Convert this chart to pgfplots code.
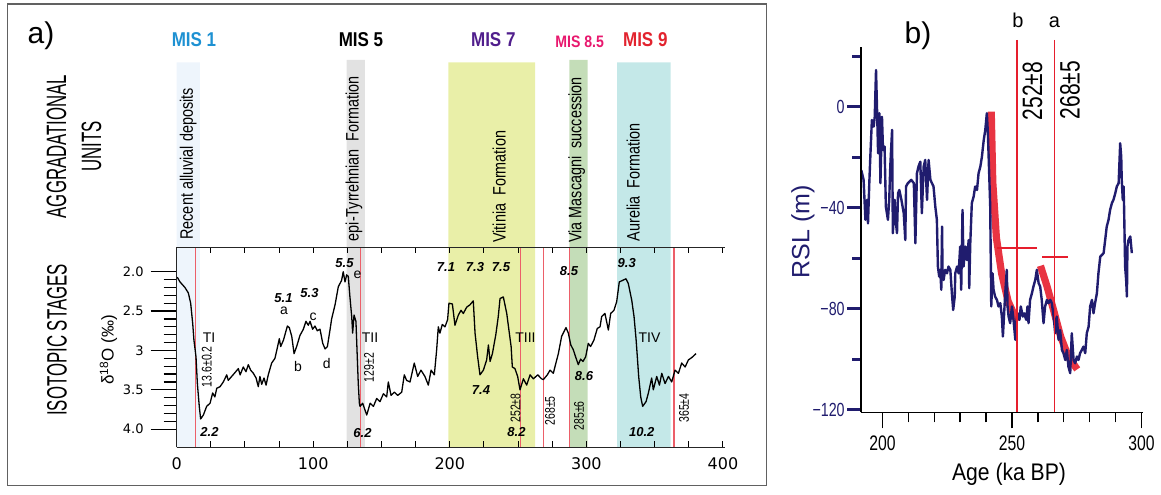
\documentclass[border=0pt]{standalone}
\usepackage{pgfplots}
\pgfplotsset{compat=1.18}
\usepackage{fontspec}
\setmainfont{Liberation Sans}
\newfontfamily\cond[FakeStretch=0.75]{Liberation Sans}
\newfontfamily\fcond[FakeStretch=0.8]{Liberation Sans}
\newfontfamily\vcond[FakeStretch=0.6]{Liberation Sans}
\newfontfamily\bcond[FakeStretch=0.85]{Liberation Sans}
\newfontfamily\acond[FakeStretch=0.88]{Liberation Sans}
\newfontfamily\dv{DejaVu Sans}
\definecolor{navy}{RGB}{32,28,110}
\definecolor{redb}{RGB}{230,30,45}
\definecolor{redl}{RGB}{236,95,105}
\definecolor{misone}{RGB}{30,145,210}
\definecolor{misseven}{RGB}{80,30,140}
\definecolor{miseight}{RGB}{232,24,110}
\definecolor{misnine}{RGB}{226,35,46}
\definecolor{bandone}{RGB}{238,245,252}
\definecolor{bandfive}{RGB}{226,226,226}
\definecolor{bandseven}{RGB}{233,239,168}
\definecolor{bandeight}{RGB}{196,221,184}
\definecolor{bandnine}{RGB}{196,232,232}
\pgfplotstableread{
x y
0.5 2.07
2.5 2.13
6.1 2.20
8.6 2.27
10.3 2.40
11.8 2.66
12.7 2.87
14.2 3.08
15.2 3.42
16.6 3.71
17.6 3.87
19.6 3.82
22.0 3.71
24.5 3.67
26.4 3.54
28.0 3.59
29.4 3.48
31.8 3.46
34.2 3.40
36.7 3.31
37.8 3.38
40.3 3.33
42.8 3.28
45.2 3.23
46.5 3.31
48.8 3.21
50.8 3.27
52.5 3.18
54.2 3.25
56.2 3.29
58.2 3.35
59.8 3.46
61.0 3.33
62.3 3.43
64.0 3.35
65.5 3.44
67.1 3.31
69.6 3.16
72.0 3.10
73.7 2.97
75.2 2.85
76.2 2.95
78.2 2.87
81.1 2.69
82.5 2.71
84.3 2.82
86.0 3.04
87.9 2.95
90.3 2.81
92.8 2.73
94.7 2.63
96.4 2.68
97.7 2.63
99.6 2.73
101.3 2.69
103.0 2.75
105.0 2.73
107.0 2.91
108.7 2.98
110.4 2.95
112.3 2.74
113.5 2.60
116.0 2.42
118.4 2.19
120.8 2.11
122.0 2.00
123.3 2.13
124.5 2.04
125.7 2.06
126.9 2.32
128.2 2.57
128.9 2.78
129.9 2.55
131.3 2.63
133.0 3.42
133.8 3.67
134.3 3.71
136.2 3.67
139.2 3.82
141.7 3.67
144.1 3.71
146.5 3.61
148.9 3.65
151.4 3.55
153.8 3.59
155.0 3.40
157.0 3.57
159.4 3.53
161.9 3.57
164.8 3.53
166.7 3.31
168.4 3.38
170.9 3.40
174.0 3.16
176.5 3.33
178.9 3.25
181.8 3.33
184.3 3.44
186.3 3.25
188.7 3.31
190.4 2.99
191.6 2.70
192.8 2.78
194.5 2.67
196.5 2.70
198.4 2.61
199.4 2.40
201.9 2.41
203.8 2.68
206.3 2.55
208.2 2.49
209.9 2.53
212.4 2.45
214.8 2.42
217.2 2.37
218.5 2.78
220.4 3.08
222.1 3.31
224.6 3.25
227.0 3.12
228.3 2.93
229.5 3.14
231.2 3.04
233.7 2.80
235.5 2.57
236.8 2.34
239.2 2.32
241.7 2.53
243.3 2.74
244.9 2.95
245.8 3.21
247.7 3.23
249.7 3.33
251.4 3.50
253.9 3.36
256.3 3.44
258.8 3.31
261.2 3.36
264.4 3.31
267.2 3.36
268.5 3.37
271.4 3.31
273.4 3.25
275.8 3.29
277.7 3.16
279.5 3.04
281.9 2.82
285.1 2.71
286.8 2.78
288.6 2.93
290.4 2.99
292.3 3.09
294.1 3.18
295.8 3.11
297.5 3.14
299.5 3.08
301.4 2.91
303.1 2.95
305.5 2.87
308.0 2.72
310.0 2.70
311.2 2.57
313.6 2.53
316.1 2.74
317.8 2.53
320.2 2.49
322.2 2.38
324.1 2.13
326.5 2.11
329.0 2.09
330.7 2.15
333.2 2.36
334.9 2.57
336.4 2.86
337.3 3.08
338.3 3.33
339.8 3.59
341.2 3.71
343.7 3.65
345.4 3.54
347.8 3.35
349.0 3.50
351.5 3.33
353.5 3.44
355.2 3.29
357.6 3.42
360.1 3.33
362.5 3.40
364.9 3.25
367.4 3.29
369.8 3.16
372.3 3.21
374.7 3.12
377.2 3.09
380.3 3.04
}\isotope
\pgfplotstableread{
x y
191.8 -25.1
192.7 -29.0
193.4 -44.8
194.0 -36.9
194.4 -46.2
194.9 -30.3
195.3 -19.8
195.9 -5.3
196.6 -7.9
197.0 -4.0
197.5 14.5
197.9 -1.3
198.3 -18.5
198.8 -2.6
199.2 -30.3
199.8 -4.0
200.2 -17.1
200.8 -15.8
201.3 -39.6
202.1 -44.8
202.6 -36.9
203.0 -23.7
203.7 -9.2
204.0 -50.1
204.7 -36.9
205.2 -46.2
205.6 -50.1
206.0 -34.3
206.5 -33.0
207.3 -36.9
208.2 -42.2
208.8 -52.8
209.1 -31.6
209.8 -30.3
211.1 -29.0
212.1 -30.3
212.7 -54.1
213.3 -26.4
213.9 -23.7
214.6 -21.8
215.2 -42.2
215.9 -23.7
216.5 -21.1
217.2 -36.9
217.8 -21.1
218.5 -29.0
219.1 -30.3
219.7 -31.6
220.4 -39.6
221.0 -44.8
221.4 -63.3
221.9 -67.3
222.3 -64.6
222.7 -72.5
223.0 -47.5
223.2 -66.0
223.6 -68.6
224.2 -64.6
224.9 -66.0
225.5 -63.3
226.2 -64.6
226.8 -73.9
227.3 -80.5
227.9 -75.2
228.1 -66.0
228.8 -63.3
229.4 -66.0
230.0 -55.4
230.4 -72.5
230.9 -40.9
231.3 -63.3
232.0 -55.4
232.6 -60.7
233.3 -52.8
233.5 -71.9
233.9 -54.1
234.5 -38.2
235.2 -35.6
235.8 -31.6
236.5 -33.0
237.1 -26.4
237.8 -23.7
238.4 -19.8
239.1 -13.2
239.7 -9.2
240.3 -2.6
240.7 -10.5
241.2 -26.4
241.6 -39.6
242.0 -79.1
242.5 -66.0
242.9 -72.5
243.5 -75.2
244.2 -76.5
244.8 -79.1
245.5 -77.8
246.1 -83.1
246.5 -91.0
247.4 -73.9
248.0 -64.6
248.3 -79.1
248.7 -83.1
249.3 -85.7
250.0 -79.1
250.6 -84.4
251.3 -92.3
251.6 -85.7
252.2 -81.8
252.9 -84.4
253.4 -79.1
254.2 -83.1
254.7 -81.8
255.5 -84.4
256.0 -79.1
256.4 -85.7
257.0 -76.5
257.7 -73.9
258.3 -71.2
259.0 -68.6
259.6 -64.6
260.3 -69.9
260.9 -71.2
261.5 -76.5
262.2 -85.7
262.8 -79.1
263.5 -76.5
264.1 -77.8
264.8 -76.5
265.4 -77.8
266.1 -83.1
266.7 -89.7
267.3 -83.1
268.0 -92.3
268.6 -88.4
269.3 -96.3
269.9 -97.6
270.6 -100.3
271.2 -96.3
271.8 -102.9
272.5 -105.5
273.1 -89.7
273.8 -100.3
274.4 -101.6
275.1 -98.9
275.7 -100.3
276.3 -97.6
277.0 -96.3
277.6 -95.0
278.3 -97.6
278.9 -89.7
279.6 -87.1
280.2 -79.1
280.9 -76.5
281.5 -81.8
282.1 -77.8
282.8 -73.9
283.4 -66.0
284.1 -59.4
285.4 -58.0
286.0 -52.8
286.6 -47.5
287.3 -44.8
287.9 -40.9
288.6 -38.2
289.2 -36.9
289.9 -34.3
290.5 -31.6
291.2 -30.3
291.8 -14.5
292.2 -19.8
292.4 -29.0
292.8 -36.9
293.1 -31.6
293.3 -39.6
293.7 -63.3
294.1 -68.6
294.4 -75.2
294.6 -55.4
295.0 -52.8
295.7 -51.4
296.3 -58.0
}\rsl
\begin{document}
\begin{tikzpicture}
% ---------- panel a: main axis with bands, lines, curve and x ticks
\begin{axis}[
  at={(88.3pt,23.35pt)}, anchor=south west, scale only axis,
  width=274.2pt, height=100pt,
  xmin=0, xmax=401.5, ymin=1.69, ymax=4.23, y dir=reverse,
  clip=false, axis on top,
  axis x line=box, axis y line=left,
  x axis line style={-}, y axis line style={-},
  axis line style={line width=0.6pt, black!85},
  xtick={0,100,200,300,400}, xticklabels={0,100,200,300,400},
  minor xtick={25,50,75,125,150,175,225,250,275,325,350,375},
  xticklabel pos=left,
  tick align=inside, major tick length=3pt, minor tick length=3pt,
  ytick=\empty,
  /pgf/number format/assume math mode=true,
  xticklabel style={font=\dv\fontsize{8}{8}\selectfont, yshift=-1.5pt},
  tick style={line width=0.5pt, black},
]
\addplot[draw=none, fill=bandone] coordinates {(0,-0.66) (17.1,-0.66) (17.1,4.23) (0,4.23) (0,-0.66)};
\addplot[draw=none, fill=bandfive] coordinates {(124.5,-0.69) (137.9,-0.69) (137.9,4.23) (124.5,4.23) (124.5,-0.69)};
\addplot[draw=none, fill=bandseven] coordinates {(198.9,-0.66) (262.4,-0.66) (262.4,4.23) (198.9,4.23) (198.9,-0.66)};
\addplot[draw=none, fill=bandeight] coordinates {(287.5,-0.69) (301.0,-0.69) (301.0,4.23) (287.5,4.23) (287.5,-0.69)};
\addplot[draw=none, fill=bandnine] coordinates {(322.6,-0.66) (361.7,-0.66) (361.7,4.23) (322.6,4.23) (322.6,-0.66)};
\addplot[redl, line width=0.6pt] coordinates {(13.7,1.69) (13.7,4.23)};
\addplot[redl, line width=0.6pt] coordinates {(134.8,1.69) (134.8,4.23)};
\addplot[redl, line width=0.6pt] coordinates {(251.9,1.69) (251.9,4.23)};
\addplot[redl, line width=0.6pt] coordinates {(268.4,1.69) (268.4,4.23)};
\addplot[redl, line width=0.6pt] coordinates {(287.5,1.69) (287.5,4.23)};
\addplot[redl, line width=0.6pt] coordinates {(364.1,1.69) (364.1,4.23)};
\addplot[black, line width=0.65pt, line join=round] table[x=x,y=y] {\isotope};
\end{axis}
% ---------- panel a: y ticks
\begin{axis}[
  at={(88.3pt,23.35pt)}, anchor=south west, scale only axis,
  width=274.2pt, height=100pt,
  xmin=0, xmax=401.5, ymin=1.69, ymax=4.23, y dir=reverse,
  axis x line=none, axis y line=left, y axis line style={-},
  axis line style={line width=0.6pt, black!85},
  ytick={2,2.5,3,3.5,4}, yticklabels={2.0,2.5,3,3.5,4.0},
  minor ytick={2.1,2.2,2.3,2.4,2.6,2.7,2.8,2.9,3.1,3.2,3.3,3.4,3.6,3.7,3.8,3.9},
  tick align=outside, major tick length=13pt, minor tick length=6.5pt,
  /pgf/number format/assume math mode=true,
  yticklabel style={font=\dv\fontsize{6.5}{6.5}\selectfont},
  tick style={line width=0.6pt, black},
]
\addplot[draw=none] coordinates {(0,2)};
\end{axis}
% ---------- panel b: main axis
\begin{axis}[
  at={(430.5pt,40.85pt)}, anchor=south west, scale only axis,
  width=140.85pt, height=182.65pt,
  xmin=191.7, xmax=300.5, ymin=-121, ymax=23.6,
  clip=false,
  axis x line=bottom, axis y line=none, x axis line style={-},
  axis line style={line width=0.75pt, black},
  xtick={200,250,300}, xticklabels={200,250,300},
  minor xtick={210,220,230,240,260,270,280,290},
  tick align=outside, major tick length=8pt, minor tick length=5pt,
  ytick=\empty,
  /pgf/number format/assume math mode=true,
  xticklabel style={font=\cond\fontsize{10.5}{10.5}\selectfont},
  tick style={line width=0.75pt, black},
]
\addplot[redb, line width=3.6pt, opacity=0.9, line cap=butt] coordinates {(242.0,-2) (242.6,-30) (244.0,-52) (246.0,-66) (248.5,-77) (252.0,-85)};
\addplot[redb, line width=3.6pt, opacity=0.9, line cap=butt] coordinates {(261.0,-63) (263.5,-71) (266.2,-81) (268.8,-91) (271.8,-99) (275.2,-104)};
\addplot[navy, line width=1.2pt, line join=round] table[x=x,y=y] {\rsl};
\addplot[redb, line width=0.8pt] coordinates {(252.0,26.4) (252.0,-121)};
\addplot[redb, line width=0.8pt] coordinates {(266.4,26.4) (266.4,-121)};
\addplot[redb, line width=0.8pt] coordinates {(244.2,-56) (259.7,-56)};
\addplot[redb, line width=0.8pt] coordinates {(261.7,-59.6) (271.7,-59.6)};
\end{axis}
% ---------- panel b: y ticks
\begin{axis}[
  at={(430.5pt,40.85pt)}, anchor=south west, scale only axis,
  width=140.85pt, height=182.65pt,
  xmin=191.7, xmax=300.5, ymin=-121, ymax=23.6,
  axis x line=none, axis y line=left, y axis line style={-},
  axis line style={line width=0.75pt, black},
  ytick={-120,-80,-40,0}, yticklabels={−120,−80,−40,0},
  minor ytick={-100,-60,-20,20},
  tick align=outside, major tick length=7pt, minor tick length=4.5pt,
  /pgf/number format/assume math mode=true,
  yticklabel style={font=\cond\fontsize{9.5}{9.5}\selectfont, text=navy, inner xsep=1pt},
  tick style={line width=1.5pt, navy},
]
\addplot[draw=none] coordinates {(250,0)};
\end{axis}
% ---------- texts (pixel coordinates of the reference)
\begin{scope}[yshift=247pt, x=0.5pt, y=-0.5pt]
\draw[black!62, line width=0.75pt] (7.5,4) rectangle (766.5,485.5);
\node[font=\fontsize{15}{15}\selectfont] at (41,36) {a)};
\node[font=\fontsize{15}{15}\selectfont] at (918,36) {b)};
% MIS labels
\node[font=\bcond\bfseries\fontsize{10}{10}\selectfont, text=misone] at (194,40) {MIS 1};
\node[font=\bcond\bfseries\fontsize{10}{10}\selectfont, text=black] at (361,40) {MIS 5};
\node[font=\bcond\bfseries\fontsize{10}{10}\selectfont, text=misseven] at (493.3,40) {MIS 7};
\node[font=\bcond\bfseries\fontsize{8.3}{8.3}\selectfont, text=miseight] at (579.7,42) {MIS 8.5};
\node[font=\bcond\bfseries\fontsize{10}{10}\selectfont, text=misnine] at (645.3,40) {MIS 9};
% side titles
\node[rotate=90, align=center, font=\vcond\fontsize{14}{17.5}\selectfont] at (74,146.5) {AGGRADATIONAL\\UNITS};
\node[rotate=90, font=\vcond\fontsize{14}{14}\selectfont] at (57,340) {ISOTOPIC STAGES};
% formation labels
\node[rotate=90, anchor=west, inner sep=0pt, font=\fcond\fontsize{9}{9}\selectfont] at (188.3,240) {Recent alluvial deposits};
\node[rotate=90, anchor=west, inner sep=0pt, font=\fcond\fontsize{9}{9}\selectfont] at (354,241.5) {epi-Tyrrehnian\ \ Formation};
\node[rotate=90, anchor=west, inner sep=0pt, font=\fcond\fontsize{9}{9}\selectfont] at (499.3,243) {Vitinia\ \ Formation};
\node[rotate=90, anchor=west, inner sep=0pt, font=\fcond\fontsize{9}{9}\selectfont] at (576.7,243) {Via Mascagni\ \ succession};
\node[rotate=90, anchor=west, inner sep=0pt, font=\fcond\fontsize{9}{9}\selectfont] at (633.3,241.5) {Aurelia\ \ Formation};
% y label a
\node[rotate=90, font=\fontsize{8.5}{8.5}\selectfont] at (108.5,350) {δ\textsuperscript{18}O (‰)};
% stage numbers (bold italic)
\begin{scope}[every node/.style={font=\bfseries\itshape\fontsize{6.5}{6.5}\selectfont, inner sep=0pt}]
\node at (344.5,263.3) {5.5};
\node at (283.5,298) {5.1};
\node at (309.5,293.3) {5.3};
\node at (446,267.5) {7.1};
\node at (475,267.5) {7.3};
\node at (501,267.5) {7.5};
\node at (569,270.8) {8.5};
\node at (626.7,263.3) {9.3};
\node at (481,390) {7.4};
\node at (584,375.8) {8.6};
\node at (209.5,432) {2.2};
\node at (362.5,433) {6.2};
\node at (516.5,432) {8.2};
\node at (641.8,432) {10.2};
\end{scope}
% letters and terminations
\begin{scope}[every node/.style={font=\fontsize{7}{7}\selectfont, inner sep=0pt}]
\node at (284,311) {a};
\node at (298,366.7) {b};
\node at (313,317) {c};
\node at (326.7,363) {d};
\node at (357.5,275) {e};
\node at (209,338) {TI};
\node at (370,337.5) {TII};
\node at (525.5,337.5) {TIII};
\node at (649.5,337.5) {TIV};
\end{scope}
% rotated ages
\begin{scope}[every node/.style={rotate=90, font=\cond\fontsize{7}{7}\selectfont, inner sep=0pt}]
\node at (206.7,366.7) {13.6±0.2};
\node at (369,367.5) {129±2};
\node at (515.5,408) {252±8};
\node at (550,410.8) {268±5};
\node at (579,415.8) {285±6};
\node at (684,408) {365±4};
\end{scope}
% panel b texts
\node[font=\fontsize{10}{10}\selectfont] at (1018,20) {b};
\node[font=\fontsize{10}{10}\selectfont] at (1054.5,22) {a};
\node[rotate=90, font=\cond\fontsize{14}{14}\selectfont] at (1032.5,91) {252±8};
\node[rotate=90, font=\cond\fontsize{14}{14}\selectfont] at (1070,90) {268±5};
\node[rotate=90, font=\fontsize{12.5}{12.5}\selectfont, text=navy] at (803,232) {RSL (m)};
\node[font=\acond\fontsize{12}{12}\selectfont] at (1009,474) {Age (ka BP)};
\end{scope}
\pgfresetboundingbox
\useasboundingbox (0,0) rectangle (580.5pt,247pt);
\end{tikzpicture}
\end{document}
